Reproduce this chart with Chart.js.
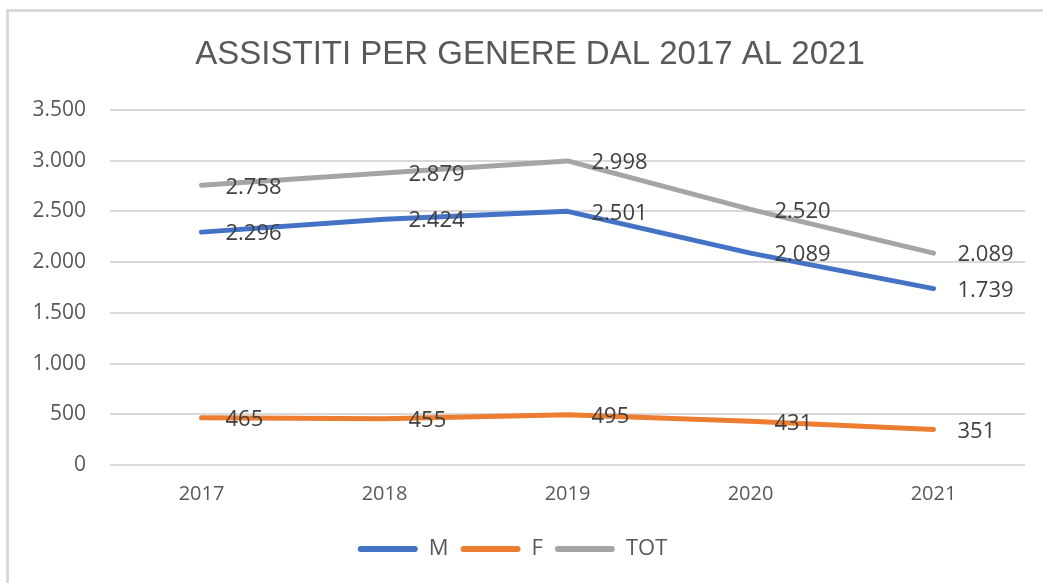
<!DOCTYPE html>
<html lang="it">
<head>
    <meta charset="UTF-8">
    <title>Assistiti per genere</title>
    <style>
        body { margin: 0; background: #fff; }
        #wrap { position: relative; width: 1043px; height: 583px; }
        #frame { position: absolute; left: 6px; top: 9px; width: 1040px; height: 580px;
                 border-top: 3px solid #d9d9d9; border-left: 3px solid #d9d9d9; }
        #myChart { position: absolute; left: 0; top: 0; }
    </style>
</head>
<body>
    <div id="wrap">
        <div id="frame"></div>
        <canvas id="myChart" width="1043" height="583"></canvas>
    </div>

    <script src="https://cdn.jsdelivr.net/npm/chart.js"></script>
    <script>
        // anni (categorie)
        const anni = ['2017', '2018', '2019', '2020', '2021'];
        // valori per serie
        const maschi = [2296, 2424, 2501, 2089, 1739];
        const femmine = [465, 455, 495, 431, 351];
        const totale = [2758, 2879, 2998, 2520, 2089];
        // tick asse y
        const tickY = [0, 500, 1000, 1500, 2000, 2500, 3000, 3500];

        const titolo = 'ASSISTITI PER GENERE DAL 2017 AL 2021';
        const grigioTesto = '#595959';

        // formato italiano con il punto per le migliaia
        function fmt(v) {
            return String(v).replace(/\B(?=(\d{3})+(?!\d))/g, '.');
        }

        // titolo disegnato a mano (per centrarlo come nell'originale)
        const titoloPlugin = {
            id: 'titoloPlugin',
            afterDraw(chart) {
                const c = chart.ctx;
                c.save();
                c.font = '33px "Liberation Sans", sans-serif';
                c.fillStyle = grigioTesto;
                c.textAlign = 'center';
                c.textBaseline = 'middle';
                c.fillText(titolo, 530, 55);
                c.restore();
            }
        };

        // etichette dati a destra del punto
        const etichette = {
            id: 'etichette',
            afterDatasetsDraw(chart) {
                const c = chart.ctx;
                c.save();
                c.font = '22px "Open Sans", sans-serif';
                c.fillStyle = '#404040';
                c.textBaseline = 'middle';
                c.textAlign = 'left';
                chart.data.datasets.forEach((ds, i) => {
                    chart.getDatasetMeta(i).data.forEach((p, j) => {
                        c.fillText(fmt(ds.data[j]), p.x + 24, p.y + 2);
                    });
                });
                c.restore();
            }
        };

        function serie(label, dati, colore) {
            return {
                label: label,
                data: dati,
                borderColor: colore,
                backgroundColor: colore,
                borderWidth: 5,
                borderCapStyle: 'round',
                borderJoinStyle: 'round',
                pointRadius: 0,
                tension: 0,
                fill: false
            };
        }

        const ctx = document.getElementById('myChart');
        new Chart(ctx, {
            type: 'line',
            data: {
                labels: anni,
                datasets: [
                    serie('M', maschi, '#4472C4'),
                    serie('F', femmine, '#ED7D31'),
                    serie('TOT', totale, '#A5A5A5')
                ]
            },
            options: {
                responsive: false,
                animation: false,
                layout: { padding: { left: 0, right: 18, top: 110, bottom: 13 } },
                scales: {
                    x: {
                        offset: true,
                        afterFit: (s) => { s.height = 61; },
                        grid: { display: false, drawTicks: false },
                        border: { display: false },
                        ticks: { color: grigioTesto, font: { family: 'Open Sans', size: 20 }, padding: 17 }
                    },
                    y: {
                        min: 0,
                        max: 3500,
                        afterBuildTicks: (s) => { s.ticks = tickY.map(v => ({ value: v })); },
                        afterFit: (s) => { s.width = 110; },
                        grid: { color: '#d9d9d9', lineWidth: 2, drawTicks: false },
                        border: { display: false },
                        ticks: {
                            color: grigioTesto,
                            font: { family: 'Open Sans', size: 21 },
                            padding: 24,
                            callback: (v) => fmt(v)
                        }
                    }
                },
                plugins: {
                    title: { display: false },
                    legend: {
                        position: 'bottom',
                        labels: {
                            color: grigioTesto,
                            font: { family: 'Open Sans', size: 22 },
                            boxWidth: 60,
                            boxHeight: 6,
                            padding: 12,
                            useBorderRadius: true,
                            borderRadius: 3,
                            generateLabels: (chart) => {
                                const items = Chart.defaults.plugins.legend.labels.generateLabels(chart);
                                items.forEach(it => { it.lineWidth = 0; });
                                return items;
                            }
                        }
                    },
                    tooltip: { enabled: false }
                }
            },
            plugins: [etichette, titoloPlugin]
        });
    </script>
</body>
</html>
